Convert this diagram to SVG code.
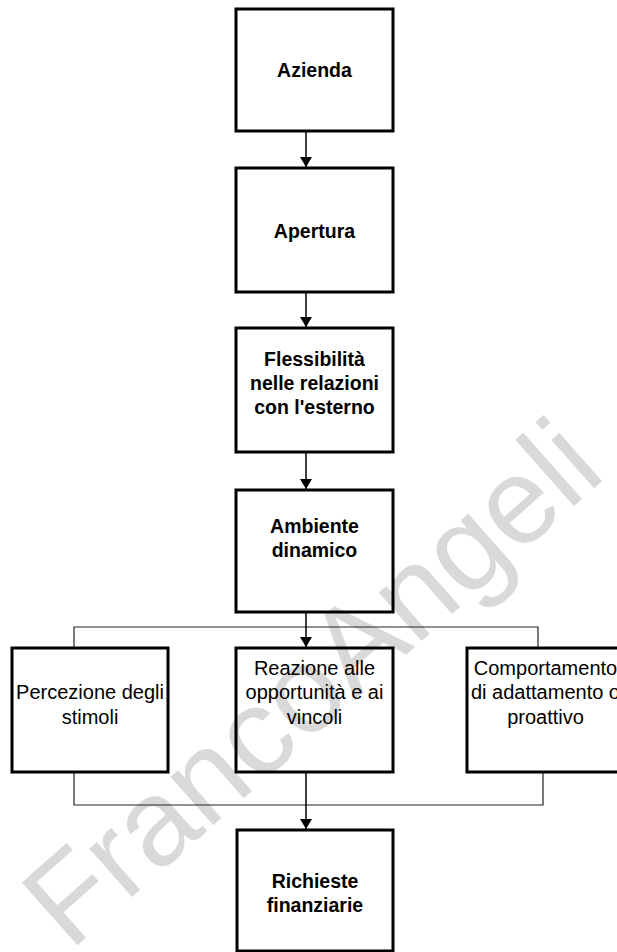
<svg xmlns="http://www.w3.org/2000/svg" width="617" height="952" viewBox="0 0 617 952">
  <defs>
    <marker id="arrow" viewBox="0 0 10 12" refX="10" refY="6" markerWidth="10" markerHeight="12" markerUnits="userSpaceOnUse" orient="auto">
      <path d="M0,0 L10,6 L0,12 Z" fill="#000"/>
    </marker>
    <style>
      .box { fill: none; stroke: #000; stroke-width: 3; }
      .bold { font-family: "Liberation Sans", Arial, sans-serif; font-weight: bold; font-size: 19.5px; fill: #000; text-anchor: middle; }
      .reg { font-family: "Liberation Sans", Arial, sans-serif; font-size: 20px; fill: #000; text-anchor: middle; }
      .line { fill: none; stroke: #000; stroke-width: 1.5; }
      .thin { fill: none; stroke: #222; stroke-width: 1.2; }
      .mark { font-family: "Liberation Sans", Arial, sans-serif; font-size: 122px; fill: #d9d9d9; }
    </style>
  </defs>
  <rect width="617" height="952" fill="#fff"/>

  <!-- publisher watermark -->
  <text class="mark" transform="translate(70,952) rotate(-41.5)">FrancoAngeli</text>

  <g id="connectors">
    <line class="line" x1="306" y1="131" x2="306" y2="167" marker-end="url(#arrow)"/>
    <line class="line" x1="306" y1="292" x2="306" y2="327" marker-end="url(#arrow)"/>
    <line class="line" x1="306" y1="452" x2="306" y2="489" marker-end="url(#arrow)"/>
    <!-- split towards the three reactions -->
    <polyline class="thin" points="74,648 74,627 538,627 538,648"/>
    <line class="line" x1="306" y1="612" x2="306" y2="647" marker-end="url(#arrow)"/>
    <!-- merge towards financial needs -->
    <polyline class="thin" points="74,772 74,805 543,805 543,772"/>
    <line class="line" x1="306" y1="772" x2="306" y2="829" marker-end="url(#arrow)"/>
  </g>

  <g id="azienda">
    <rect class="box" x="236" y="9" width="157" height="122"/>
    <text class="bold" x="314.5" y="77">Azienda</text>
  </g>
  <g id="apertura">
    <rect class="box" x="236" y="168" width="157" height="124"/>
    <text class="bold" x="314.5" y="238">Apertura</text>
  </g>
  <g id="flessibilita">
    <rect class="box" x="236" y="328" width="157" height="124"/>
    <text class="bold" x="314.5" y="366">Flessibilità</text>
    <text class="bold" x="314.5" y="390">nelle relazioni</text>
    <text class="bold" x="314.5" y="414">con l'esterno</text>
  </g>
  <g id="ambiente">
    <rect class="box" x="236" y="490" width="157" height="122"/>
    <text class="bold" x="314.5" y="533">Ambiente</text>
    <text class="bold" x="314.5" y="557">dinamico</text>
  </g>
  <g id="percezione">
    <rect class="box" x="12" y="648" width="156" height="124"/>
    <text class="reg" x="90" y="699">Percezione degli</text>
    <text class="reg" x="90" y="724">stimoli</text>
  </g>
  <g id="reazione">
    <rect class="box" x="236" y="648" width="157" height="124"/>
    <text class="reg" x="314.5" y="675">Reazione alle</text>
    <text class="reg" x="314.5" y="699">opportunità e ai</text>
    <text class="reg" x="314.5" y="724">vincoli</text>
  </g>
  <g id="comportamento">
    <rect class="box" x="467" y="648" width="157" height="124"/>
    <text class="reg" x="545.5" y="675">Comportamento</text>
    <text class="reg" x="545.5" y="699">di adattamento o</text>
    <text class="reg" x="545.5" y="724">proattivo</text>
  </g>
  <g id="richieste">
    <rect class="box" x="237" y="830" width="156" height="121"/>
    <text class="bold" x="315" y="888">Richieste</text>
    <text class="bold" x="315" y="912">finanziarie</text>
  </g>
</svg>
